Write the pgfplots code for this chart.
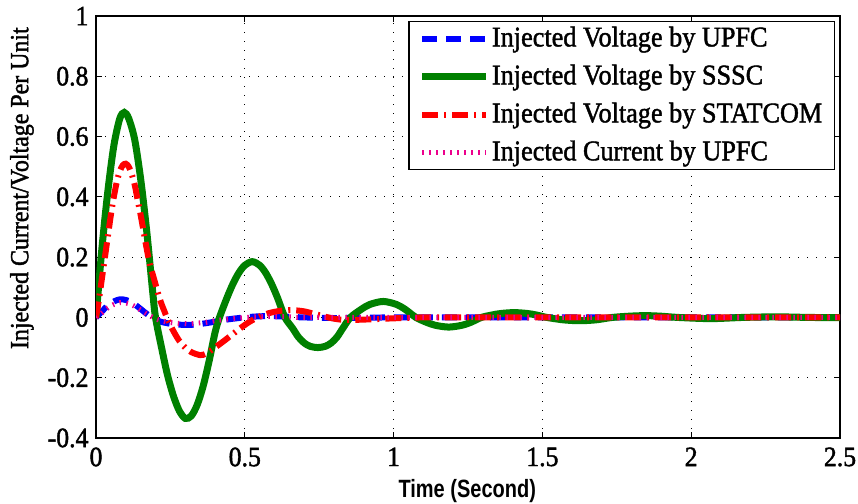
\documentclass[border=0pt]{standalone}
\usepackage{fontspec}
\setmainfont{Liberation Serif}[FakeStretch=0.92, FakeBold=1.5]
\setsansfont{Liberation Sans}
\usepackage{pgfplots}
\pgfplotsset{compat=1.18}
\definecolor{mgreen}{RGB}{0,128,0}
\begin{document}
\fontsize{28bp}{32bp}\selectfont
\begin{tikzpicture}
\path[use as bounding box] (0,0) rectangle (858bp,504bp);
\begin{axis}[at={(96bp,66bp)}, anchor=south west, scale only axis,
  width=744bp, height=422bp,
  xmin=0, xmax=2.5, ymin=-0.4, ymax=1,
  xtick={0,0.5,1,1.5,2,2.5},
  ytick={-0.4,-0.2,0,0.2,0.4,0.6,0.8,1},
  /pgf/number format/assume math mode=true,
  ticklabel style={font=\fontsize{28bp}{32bp}\selectfont},
  yticklabel style={xshift=2bp},
  tick align=inside, major tick length=6bp,
  axis line style={line width=1.4bp},
  every tick/.style={black, line width=1bp},
  grid=major,
  major grid style={black, line width=0.9bp, dash pattern=on 1bp off 8bp},
  xlabel={\scalebox{0.8}[1]{\sffamily\bfseries Time (Second)}},
  xlabel style={at={(axis description cs:0.499,-0.126)}, anchor=center, font=\fontsize{25bp}{30bp}\selectfont},
  ylabel={Injected Current/Voltage Per Unit},
  ylabel style={at={(axis description cs:-0.0995,0.592)}, anchor=center, font=\fontsize{26bp}{30bp}\selectfont},
  legend style={at={(rel axis cs:0.993,0.988)}, anchor=north east, draw=black, line width=1.2bp,
    font=\fontsize{28.5bp}{32bp}\selectfont, row sep=10bp, inner xsep=10bp, inner ysep=3bp},
  legend cell align=left,
  legend image code/.code={\draw[#1] (0bp,0bp) -- (64bp,0bp);},
]
\addplot[blue, line width=6bp, dash pattern=on 15bp off 9bp, smooth] coordinates {
(0,0) (0.02,0.02) (0.04,0.04) (0.06,0.053) (0.08,0.06) (0.10,0.058) (0.12,0.05) (0.14,0.036)
(0.16,0.02) (0.18,0.005) (0.20,-0.007) (0.22,-0.015) (0.25,-0.021) (0.28,-0.024) (0.31,-0.025)
(0.34,-0.023) (0.37,-0.019) (0.40,-0.014) (0.44,-0.007) (0.48,-0.002) (0.52,0.002) (0.56,0.004)
(0.60,0.004) (0.65,0.002) (0.70,0.0) (0.8,-0.002) (0.9,-0.001) (1.0,0) (1.25,0) (1.5,0) (1.75,0)
(2.0,0) (2.25,0) (2.5,0)};
\addlegendentry{Injected Voltage by UPFC}
\addplot[mgreen, line width=7bp, smooth] coordinates {
(0,0) (0.02,0.23) (0.04,0.42) (0.06,0.57) (0.08,0.66) (0.095,0.68) (0.11,0.66) (0.13,0.59)
(0.15,0.46) (0.17,0.29) (0.19,0.09) (0.20,0) (0.22,-0.099) (0.24,-0.19) (0.26,-0.26) (0.28,-0.31)
(0.30,-0.335) (0.32,-0.327) (0.34,-0.29) (0.36,-0.228) (0.38,-0.145) (0.40,-0.05) (0.415,0)
(0.44,0.065) (0.46,0.111) (0.48,0.148) (0.50,0.173) (0.525,0.185) (0.55,0.173) (0.57,0.148)
(0.59,0.111) (0.61,0.065) (0.635,0) (0.66,-0.035) (0.68,-0.065) (0.70,-0.085) (0.72,-0.096)
(0.745,-0.10) (0.77,-0.096) (0.79,-0.085) (0.81,-0.065) (0.83,-0.035) (0.855,0) (0.89,0.026)
(0.92,0.043) (0.965,0.053) (1.01,0.043) (1.04,0.026) (1.075,0) (1.11,-0.016) (1.14,-0.026)
(1.185,-0.032) (1.23,-0.026) (1.26,-0.016) (1.295,0) (1.33,0.008) (1.36,0.013) (1.405,0.016)
(1.45,0.013) (1.48,0.008) (1.515,0) (1.57,-0.008) (1.625,-0.011) (1.68,-0.008) (1.735,0)
(1.79,0.004) (1.845,0.006) (1.9,0.004) (1.955,0) (2.065,-0.004) (2.175,0) (2.285,0.002)
(2.395,0) (2.5,-0.001)};
\addlegendentry{Injected Voltage by SSSC}
\addplot[red, line width=6bp, dash pattern=on 16bp off 6bp on 2bp off 6bp, smooth] coordinates {
(0,0) (0.01,0.06) (0.02,0.13) (0.03,0.20) (0.04,0.27) (0.05,0.34) (0.06,0.40) (0.07,0.45)
(0.08,0.485) (0.09,0.505) (0.10,0.51) (0.11,0.50) (0.12,0.475) (0.13,0.44) (0.14,0.39)
(0.15,0.34) (0.16,0.285) (0.17,0.23) (0.18,0.18) (0.19,0.145) (0.20,0.11) (0.21,0.075)
(0.22,0.045) (0.23,0.02) (0.24,-0.005) (0.26,-0.045) (0.28,-0.078) (0.30,-0.10) (0.32,-0.115)
(0.35,-0.125) (0.37,-0.12) (0.40,-0.10) (0.43,-0.078) (0.46,-0.055) (0.49,-0.032) (0.52,-0.012)
(0.55,0.003) (0.58,0.014) (0.62,0.022) (0.66,0.024) (0.70,0.02) (0.74,0.01) (0.78,0.0)
(0.82,-0.007) (0.87,-0.008) (0.93,-0.006) (1.0,-0.003) (1.1,0) (1.25,0) (1.5,0) (1.75,0)
(2.0,0) (2.25,0) (2.5,0)};
\addlegendentry{Injected Voltage by STATCOM}
\addplot[magenta, line width=5bp, dash pattern=on 1.5bp off 5.5bp, smooth] coordinates {
(0,0) (0.02,0.015) (0.04,0.032) (0.06,0.043) (0.08,0.049) (0.10,0.048) (0.12,0.042) (0.14,0.031)
(0.16,0.018) (0.18,0.006) (0.20,-0.004) (0.22,-0.011) (0.25,-0.017) (0.28,-0.02) (0.31,-0.021)
(0.34,-0.019) (0.37,-0.016) (0.40,-0.011) (0.44,-0.006) (0.48,-0.002) (0.52,0.001) (0.56,0.003)
(0.60,0.003) (0.65,0.002) (0.70,0) (1.0,0) (1.25,0) (1.5,0) (1.75,0) (2.0,0) (2.25,0) (2.5,0)};
\addlegendentry{Injected Current by UPFC}
\end{axis}
\end{tikzpicture}
\end{document}
